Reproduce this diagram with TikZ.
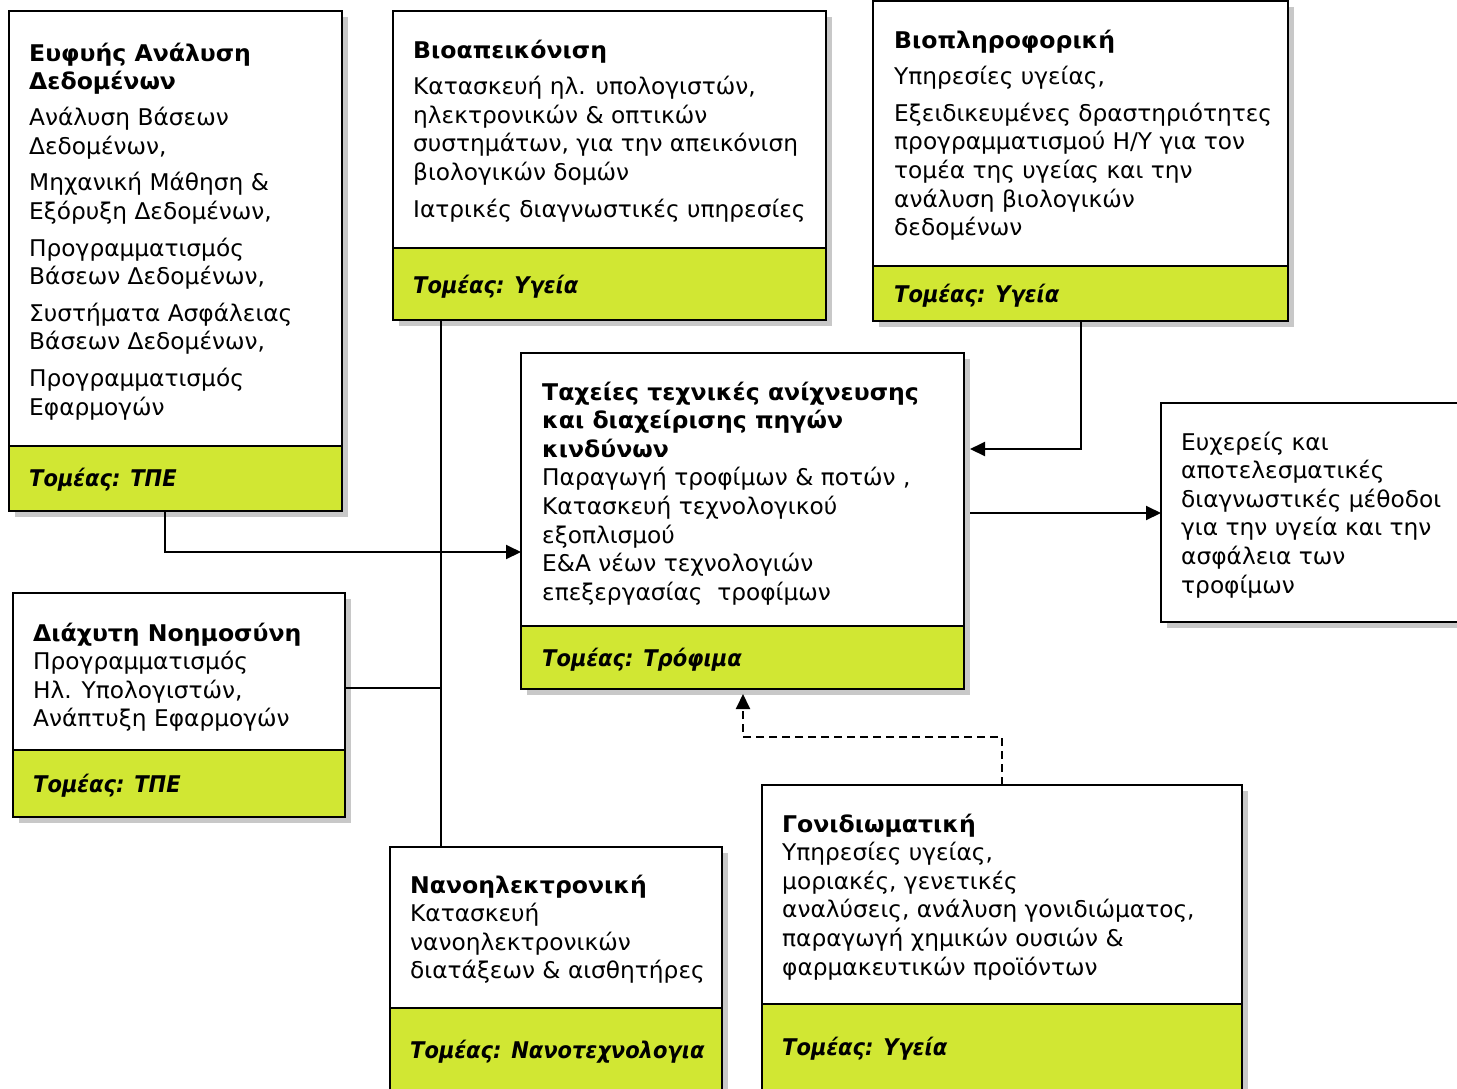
\documentclass[tikz,border=0pt]{standalone}
\usepackage{fontspec}
\setmainfont{DejaVu Sans}[FakeStretch=1.012]
\newfontfamily\titlefont{DejaVu Sans}[FakeStretch=1.025]
\newfontfamily\bandfont{DejaVu Sans}[FakeStretch=0.915]
\usetikzlibrary{shadows,arrows.meta}
\definecolor{bandgreen}{RGB}{209,231,51}
\definecolor{shade}{RGB}{200,200,200}
\newcommand\boxtitle[1]{{\titlefont\bfseries #1}}
\newcommand\sector[1]{{\bandfont\bfseries\itshape Τομέας: #1}}
\newcommand\lines[1]{\begin{tabular}[t]{@{}l@{}}#1\end{tabular}}
\tikzset{
  card/.style={draw=black, line width=2pt, fill=white, outer sep=0pt, inner sep=0pt,
    anchor=north west,
    drop shadow={shadow xshift=6pt, shadow yshift=-6pt, fill=shade, opacity=1}},
  band/.style={draw=black, line width=2pt, fill=bandgreen, outer sep=0pt, inner sep=0pt,
    anchor=south west},
  txt/.style={anchor=base west, inner sep=0pt, font=\fontsize{23}{28.6}\selectfont},
  link/.style={line width=2pt},
  arr/.style={link, -{Triangle[length=15pt,width=14pt]}},
  dasharr/.style={arr, dash pattern=on 8pt off 5pt},
}
\begin{document}
\begin{tikzpicture}[x=1pt,y=-1pt]
\clip (0,0) rectangle (1457,1088);
\fill[white] (0,0) rectangle (1457,1088);

% Ευφυής Ανάλυση Δεδομένων
\node[card, minimum width=333pt, minimum height=500pt] (eyf) at (9,11) {};
\node[band, minimum width=333pt, minimum height=65pt] (eyfB) at (eyf.south west) {};
\node[txt] (eyfT) at (29,61) {\lines{\boxtitle{Ευφυής Ανάλυση}\\ \boxtitle{Δεδομένων}\\[7.5pt]
  Ανάλυση Βάσεων\\ Δεδομένων,\\[8pt]
  Μηχανική Μάθηση \&\\ Εξόρυξη Δεδομένων,\\[8pt]
  Προγραμματισμός\\ Βάσεων Δεδομένων,\\[8pt]
  Συστήματα Ασφάλειας\\ Βάσεων Δεδομένων,\\[8pt]
  Προγραμματισμός\\ Εφαρμογών}};
\node[txt] (eyfS) at (29,486) {\sector{ΤΠΕ}};

% Βιοαπεικόνιση
\node[card, minimum width=433pt, minimum height=309pt] (bio) at (393,11) {};
\node[band, minimum width=433pt, minimum height=72pt] (bioB) at (bio.south west) {};
\node[txt] (bioT) at (413,58) {\lines{\boxtitle{Βιοαπεικόνιση}\\[8pt]
  Κατασκευή ηλ. υπολογιστών,\\ ηλεκτρονικών \& οπτικών\\
  συστημάτων, για την απεικόνιση\\ βιολογικών δομών\\[8pt]
  Ιατρικές διαγνωστικές υπηρεσίες}};
\node[txt] (bioS) at (413,293) {\sector{Υγεία}};

% Βιοπληροφορική
\node[card, minimum width=415pt, minimum height=320pt] (biopl) at (873,1) {};
\node[band, minimum width=415pt, minimum height=55pt] (bioplB) at (biopl.south west) {};
\node[txt] (bioplT) at (894,48) {\lines{\boxtitle{Βιοπληροφορική}\\[8pt]
  Υπηρεσίες υγείας,\\[8pt]
  Εξειδικευμένες δραστηριότητες\\ προγραμματισμού Η/Υ για τον\\
  τομέα της υγείας και την\\ ανάλυση βιολογικών\\ δεδομένων}};
\node[txt] (bioplS) at (894,302) {\sector{Υγεία}};

% Ταχείες τεχνικές
\node[card, minimum width=443pt, minimum height=336pt] (tax) at (521,353) {};
\node[band, minimum width=443pt, minimum height=63pt] (taxB) at (tax.south west) {};
\node[txt] (taxT) at (542,400) {\lines{\boxtitle{Ταχείες τεχνικές ανίχνευσης}\\
  \boxtitle{και διαχείρισης πηγών}\\ \boxtitle{κινδύνων}\\
  Παραγωγή τροφίμων \& ποτών ,\\ Κατασκευή τεχνολογικού\\ εξοπλισμού\\
  Ε\&Α νέων τεχνολογιών\\ επεξεργασίας\ \ τροφίμων}};
\node[txt] (taxS) at (542,666) {\sector{Τρόφιμα}};

% Ευχερείς και αποτελεσματικές μέθοδοι
\node[card, minimum width=320pt, minimum height=219pt] (euch) at (1161,403) {};
\node[txt] (euchT) at (1181,450) {\lines{Ευχερείς και\\ αποτελεσματικές\\
  διαγνωστικές μέθοδοι\\ για την υγεία και την\\ ασφάλεια των\\ τροφίμων}};

% Διάχυτη Νοημοσύνη
\node[card, minimum width=332pt, minimum height=224pt] (diax) at (13,593) {};
\node[band, minimum width=332pt, minimum height=67pt] (diaxB) at (diax.south west) {};
\node[txt] (diaxT) at (33,641) {\lines{\boxtitle{Διάχυτη Νοημοσύνη}\\
  Προγραμματισμός\\ Ηλ. Υπολογιστών,\\ Ανάπτυξη Εφαρμογών}};
\node[txt] (diaxS) at (33,792) {\sector{ΤΠΕ}};

% Νανοηλεκτρονική
\node[card, minimum width=332pt, minimum height=243pt] (nano) at (390,847) {};
\node[band, minimum width=332pt, minimum height=82pt] (nanoB) at (nano.south west) {};
\node[txt] (nanoT) at (410,893) {\lines{\boxtitle{Νανοηλεκτρονική}\\
  Κατασκευή\\ νανοηλεκτρονικών\\ διατάξεων \& αισθητήρες}};
\node[txt] (nanoS) at (410,1058) {\sector{Νανοτεχνολογια}};

% Γονιδιωματική
\node[card, minimum width=480pt, minimum height=305pt] (gon) at (762,785) {};
\node[band, minimum width=480pt, minimum height=86pt] (gonB) at (gon.south west) {};
\node[txt] (gonT) at (782,832) {\lines{\boxtitle{Γονιδιωματική}\\
  Υπηρεσίες υγείας,\\ μοριακές, γενετικές\\ αναλύσεις, ανάλυση γονιδιώματος,\\
  παραγωγή χημικών ουσιών \&\\ φαρμακευτικών προϊόντων}};
\node[txt] (gonS) at (782,1055) {\sector{Υγεία}};

% connector routing points
\coordinate (k1) at (165,552);
\coordinate (k2) at (441,688);
\coordinate (k3) at (1081,449);
\coordinate (k4) at (0,513);
\coordinate (k5) at (743,737);
\coordinate (k6) at (1002,737);

\draw[arr] (eyfB.south -| k1) |- (tax.west |- k1);
\draw[link] (bioB.south -| k2) -- (nano.north -| k2);
\draw[link] (diax.east |- k2) -- (k2);
\draw[arr] (bioplB.south -| k3) |- ([xshift=6pt]tax.east |- k3);
\draw[arr] ([xshift=6pt]tax.east |- k4) -- (euch.west |- k4);
\draw[dasharr] (gon.north -| k6) -- (k6) -- (k5) -- ([yshift=-5pt]taxB.south -| k5);
\end{tikzpicture}
\end{document}
